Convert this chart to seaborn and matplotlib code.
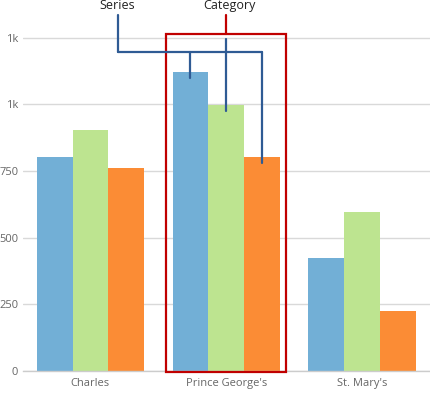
import matplotlib
matplotlib.use("Agg")
import matplotlib.pyplot as plt
import seaborn as sns
import pandas as pd
from matplotlib.patches import Rectangle

categories = ["Charles", "Prince George's", "St. Mary's"]
series_names = ["Series 1", "Series 2", "Series 3"]
series1 = [802, 1121, 424]
series2 = [904, 998, 596]
series3 = [761, 802, 225]
ytick_values = [0, 250, 500, 750, 1000, 1250]
ytick_labels = ["0", "250", "500", "750", "1k", "1k"]
colors = ["#72afd6", "#bde490", "#fb8c35"]

rows = []
for name, vals in zip(series_names, [series1, series2, series3]):
    for c, v in zip(categories, vals):
        rows.append({"category": c, "series": name, "value": v})
df = pd.DataFrame(rows)

sns.set_theme(style="white")
plt.rcParams["font.family"] = ["Open Sans", "DejaVu Sans"]

fig = plt.figure(figsize=(4.3, 3.95), dpi=100)
ax = fig.add_axes([22.5 / 430, 24 / 395, 1 - 22.5 / 430, 371 / 395])

sns.barplot(data=df, x="category", y="value", hue="series", palette=colors,
            width=0.79, saturation=1, ax=ax, legend=False, errorbar=None)
for p in ax.patches:
    p.set_edgecolor("none")
    p.set_linewidth(0)

ax.set_xlim(-0.5, 2.5)
ax.set_ylim(0, 1391)
ax.set_yticks(ytick_values)
ax.set_yticklabels(ytick_labels)
ax.set_xlabel("")
ax.set_ylabel("")
ax.yaxis.grid(True, color="#d9d9d9", linewidth=1)
ax.set_axisbelow(True)
for s in ["top", "right", "left"]:
    ax.spines[s].set_visible(False)
ax.spines["bottom"].set_color("#cccccc")
ax.spines["bottom"].set_linewidth(1)
ax.tick_params(axis="both", length=0, labelsize=8, colors="#666666")
ax.tick_params(axis="y", pad=3)
ax.tick_params(axis="x", pad=5)

# annotations
blue_line = "#2f5b94"
red_line = "#c00000"
text_y = 1369
# Category box around second group
cat_idx = 1
box_half = 0.44
box_top = 1264
ax.add_patch(Rectangle((cat_idx - box_half, -4), 2 * box_half, box_top + 4,
                       fill=False, edgecolor=red_line, linewidth=1.6,
                       clip_on=False, zorder=5))
ax.plot([cat_idx, cat_idx], [box_top, 1335], color=red_line, lw=1.6,
        clip_on=False, zorder=5)
ax.text(cat_idx + 0.02, text_y, "Category", ha="center", va="center",
        fontsize=9, color="#222222")

# Series bracket
bars = [p for p in ax.patches if p.get_height() > 0]
group = []
for p in bars:
    cx = p.get_x() + p.get_width() / 2
    if abs(cx - cat_idx) < 0.45:
        group.append((cx, p.get_height()))
group.sort()
series_x = 0.2
hy = 1196
ax.plot([series_x, series_x], [1335, hy], color=blue_line, lw=1.6,
        clip_on=False, zorder=6)
ax.plot([series_x, group[-1][0]], [hy, hy], color=blue_line, lw=1.6,
        clip_on=False, zorder=6)
for cx, h in group:
    ax.plot([cx, cx], [hy, h - 22], color=blue_line, lw=1.6,
            clip_on=False, zorder=6)
ax.text(series_x, text_y, "Series", ha="center", va="center",
        fontsize=9, color="#222222")

fig.savefig("out.png", dpi=100)
